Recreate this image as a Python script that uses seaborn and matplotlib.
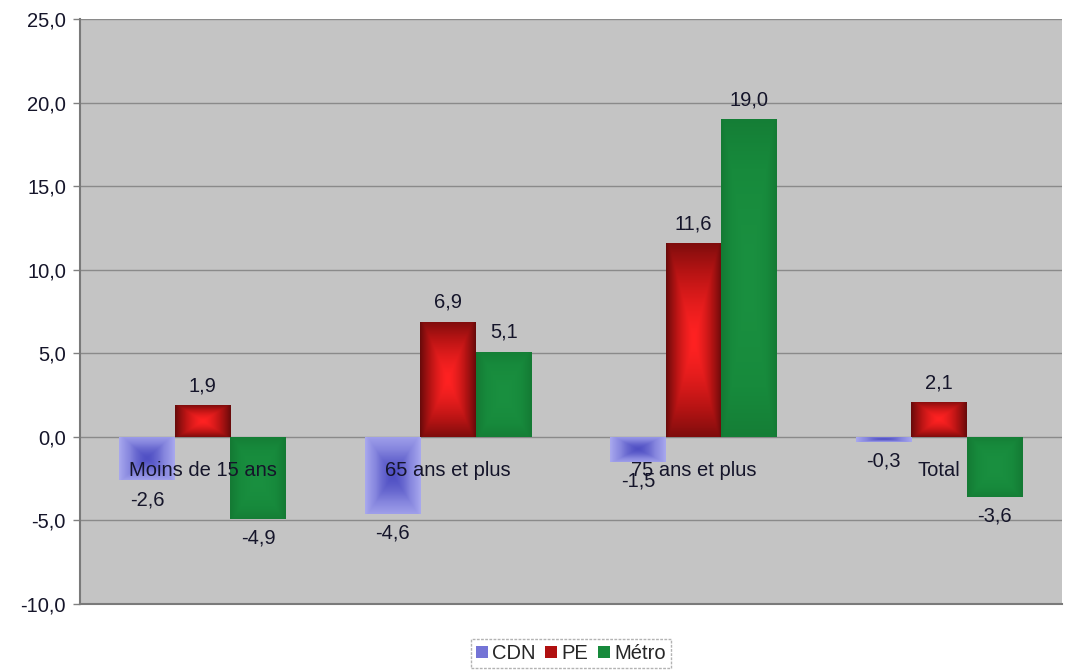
import numpy as np
import pandas as pd
import matplotlib
matplotlib.use("Agg")
import matplotlib.pyplot as plt
from matplotlib.patches import Patch
from matplotlib.colors import LinearSegmentedColormap
import seaborn as sns

categories = ["Moins de 15 ans", "65 ans et plus", "75 ans et plus", "Total"]
series = ["CDN", "PE", "Métro"]
cdn = [-2.6, -4.6, -1.5, -0.3]
pe = [1.9, 6.9, 11.6, 2.1]
metro = [-4.9, 5.1, 19.0, -3.6]
y_ticks = [-10, -5, 0, 5, 10, 15, 20, 25]

df = pd.DataFrame({
    "cat": categories * 3,
    "serie": [s for s in series for _ in categories],
    "val": cdn + pe + metro,
})

sns.set_style("white")
plt.rcParams["font.family"] = ["Liberation Sans", "DejaVu Sans"]
fs = 14.5
txt_col = "#15152a"

fig = plt.figure(figsize=(10.65, 6.7), dpi=100)
ax = fig.add_axes([0.075, 0.0985, 0.922, 0.873])
ax.set_facecolor("#c4c4c4")

base = {"CDN": "#7474d6", "PE": "#b01010", "Métro": "#178a3c"}
sns.barplot(data=df, x="cat", y="val", hue="serie", order=categories,
            hue_order=series, palette=base, width=0.68, ax=ax,
            legend=False, zorder=3, linewidth=0)

# gradient fills (center bright, edges dark)
grads = {
    "CDN": LinearSegmentedColormap.from_list("c", ["#a8a8ee", "#8686de", "#5050c4"]),
    "PE": LinearSegmentedColormap.from_list("p", ["#6a0a0a", "#b81414", "#ff2222"]),
    "Métro": LinearSegmentedColormap.from_list("m", ["#147a34", "#178a3c", "#1a9040"]),
}
yy, xx = np.mgrid[-1:1:60j, -1:1:60j]
field = 1 - np.maximum(np.abs(xx), np.abs(yy) * 0.9) ** 1.5
for serie, cont in zip(series, ax.containers):
    for bar in cont:
        x0, y0 = bar.get_x(), bar.get_y()
        w, h = bar.get_width(), bar.get_height()
        im = ax.imshow(field, cmap=grads[serie], extent=[x0, x0 + w, y0, y0 + h],
                       aspect="auto", zorder=3.5, interpolation="bilinear")
        im.set_clip_path(bar)
    for bar in cont:
        v = bar.get_height() if bar.get_y() == 0 else bar.get_y()
        v = bar.get_y() + bar.get_height() if v >= 0 else min(bar.get_y(), bar.get_y() + bar.get_height())
        xc = bar.get_x() + bar.get_width() / 2
        off = 7 if v >= 0 else -7
        ax.annotate(f"{v:.1f}".replace(".", ","), (xc, v), xytext=(0, off),
                    textcoords="offset points", ha="center",
                    va="bottom" if v >= 0 else "top", fontsize=fs,
                    color=txt_col, zorder=5)

for i, c in enumerate(categories):
    ax.text(i, -2.0, c, ha="center", va="center", fontsize=fs,
            color=txt_col, zorder=5)

ax.set_xlim(-0.5, 3.5)
ax.set_ylim(-10, 25)
ax.set_yticks(y_ticks)
ax.set_yticklabels([f"{t:.1f}".replace(".", ",") for t in y_ticks],
                   fontsize=fs, color=txt_col)
ax.set_xticks([])
ax.set_xlabel("")
ax.set_ylabel("")
ax.grid(axis="y", color="#8a8a8a", linewidth=1, zorder=1)
ax.set_axisbelow(True)
ax.tick_params(axis="y", length=5, width=1, color="#808080", pad=5, left=True)
for s in ["top", "right"]:
    ax.spines[s].set_visible(False)
for s in ["left", "bottom"]:
    ax.spines[s].set_color("#7a7a7a")
    ax.spines[s].set_linewidth(1.5)

handles = [Patch(facecolor=base[s], edgecolor="none", label=s) for s in series]
leg = ax.legend(handles=handles, loc="upper center", bbox_to_anchor=(0.5, -0.06),
                borderaxespad=0, ncol=3, frameon=True, fontsize=fs,
                handlelength=0.6, handleheight=0.6, handletextpad=0.2,
                columnspacing=0.5, borderpad=0.25, fancybox=False)
leg.get_frame().set_edgecolor("#a0a0a0")
leg.get_frame().set_linestyle((0, (2, 1)))
leg.get_frame().set_linewidth(1)

fig.savefig("out.png", dpi=100)
